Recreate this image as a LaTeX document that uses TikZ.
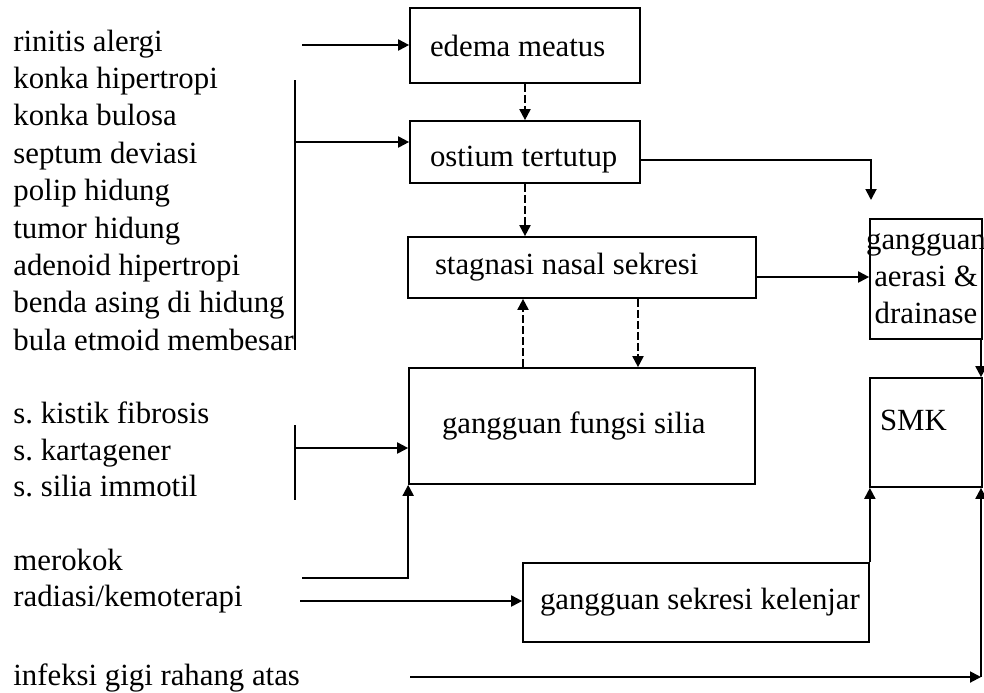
\documentclass[tikz,border=0pt]{standalone}
\usepackage{fontspec}
\setmainfont{Liberation Serif}
\usetikzlibrary{arrows.meta}
\newcommand{\bxt}[3]{\makebox[#1][l]{\hspace{#2}#3}}
\tikzset{
  box/.style={draw, line width=0.85pt, inner sep=0pt, anchor=center},
  lbl/.style={anchor=base west, inner sep=0pt},
  ln/.style={line width=0.95pt},
  arr/.style={line width=0.95pt, -{Triangle[length=5.5pt,width=5.5pt]}},
  dsh/.style={dash pattern=on 4pt off 1.5pt},
}
\begin{document}
\begin{tikzpicture}[x=0.5pt, y=-0.5pt, font=\fontsize{15.4pt}{18.5pt}\selectfont]
\fill[white] (0,0) rectangle (984,692);
\useasboundingbox (0,0) rectangle (984,692);

% boxes
\node[box, minimum height=37.5pt] (edema) at (525,45.5) {\bxt{115pt}{10pt}{edema meatus}};
\node[box, minimum height=31pt] (ostium) at (525,152) {\bxt{115pt}{10pt}{\raisebox{-4pt}[\height][\depth]{ostium tertutup}}};
\node[box, minimum height=30.5pt] (stagnasi) at (582,267.5) {\bxt{174pt}{13.5pt}{stagnasi nasal sekresi}};
\node[box, minimum height=58pt] (silia) at (582,426) {\bxt{173pt}{16.5pt}{gangguan fungsi silia}};
\node[box, minimum height=39.5pt] (sekresi) at (696,602.5) {\bxt{173pt}{8.5pt}{gangguan sekresi kelenjar}};
\node[box, minimum height=60pt, align=center] (aerasi) at (926,279) {\makebox[56pt]{gangguan}\\\makebox[56pt]{aerasi \&}\\\makebox[56pt]{drainase}};
\node[box, minimum height=54.5pt] (smk) at (926,432.5) {\bxt{56pt}{5pt}{\raisebox{6pt}[\height][\depth]{SMK}}};

% left texts
\foreach \t [count=\i from 0] in {rinitis alergi, konka hipertropi, konka bulosa, septum deviasi, polip hidung, tumor hidung, adenoid hipertropi, benda asing di hidung, bula etmoid membesar}
  \node[lbl] (L\i) at (13,{51+37.4*\i}) {\t};
\node[lbl] (S1) at (13,423) {s.\ kistik fibrosis};
\node[lbl] (S2) at (13,460) {s.\ kartagener};
\node[lbl] (S3) at (13,496) {s.\ silia immotil};
\node[lbl] (M1) at (13,570) {merokok};
\node[lbl] (M2) at (13,606) {radiasi/kemoterapi};
\node[lbl] (I1) at (13,685) {infeksi gigi rahang atas};

% helper coordinates
\coordinate (c1) at (302,45);
\coordinate (b1t) at (295,80);
\coordinate (b1b) at (295,350);
\coordinate (b1m) at (295,142);
\coordinate (b2t) at (295,425);
\coordinate (b2b) at (295,500);
\coordinate (b2m) at (295,448);
\coordinate (m1) at (302,578);
\coordinate (r1) at (300,601);
\coordinate (i1) at (410,677);
\coordinate (i2) at (981,677);
\coordinate (ae) at (871,200);
\coordinate (xu) at (523,0);
\coordinate (xd) at (638,0);
\coordinate (xr) at (981,0);

% connectors
\draw[arr] (c1) -- (c1 -| edema.west);
\draw[ln] (b1t) -- (b1b);
\draw[arr] (b1m) -- (b1m -| ostium.west);
\draw[arr,dsh] (edema.south) -- (ostium.north);
\draw[arr,dsh] (ostium.south) -- (ostium.south |- stagnasi.north);
\draw[arr] ([yshift=-4pt]ostium.east) -| (ae);
\draw[arr] ([yshift=-4.75pt]stagnasi.east) -- ([yshift=-4.75pt]stagnasi.east -| aerasi.west);
\draw[arr,dsh] (silia.north -| xu) -- (stagnasi.south -| xu);
\draw[arr,dsh] (stagnasi.south -| xd) -- (silia.north -| xd);
\draw[ln] (b2t) -- (b2b);
\draw[arr] (b2m) -- (b2m -| silia.west);
\draw[arr] (m1) -| (silia.south west);
\draw[arr] (r1) -- (r1 -| sekresi.west);
\draw[arr] (sekresi.north east) -- (sekresi.north east |- smk.south);
\draw[arr] (i1) -- (i2);
\draw[arr] (i2) -- (i2 |- smk.south);
\draw[arr] (aerasi.south -| xr) -- (smk.north -| xr);
\end{tikzpicture}
\end{document}
